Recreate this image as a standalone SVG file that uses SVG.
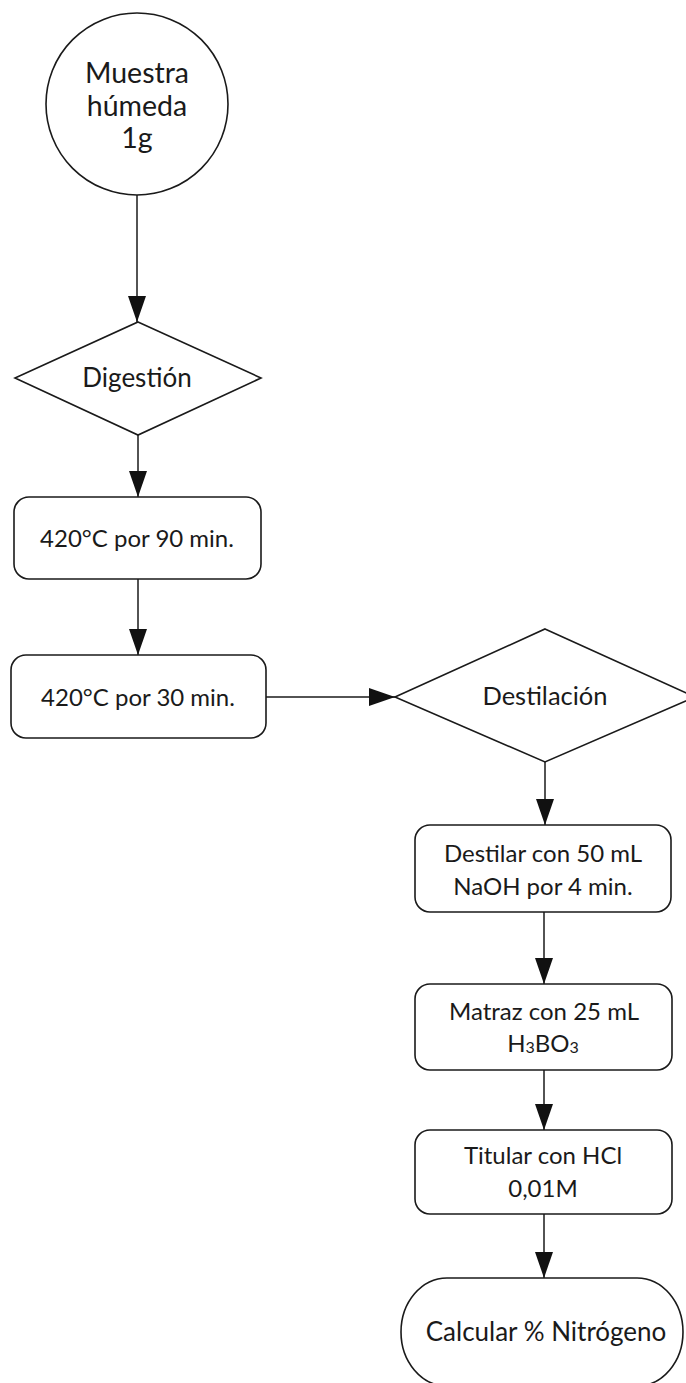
<svg xmlns="http://www.w3.org/2000/svg" width="686" height="1383" viewBox="0 0 686 1383">
  <defs>
    <marker id="arrow" markerUnits="userSpaceOnUse" markerWidth="26" markerHeight="18" refX="26" refY="9" orient="auto">
      <path d="M0,0 L26,9 L0,18 Z" fill="#111"/>
    </marker>
    <style>
      .shape { fill: #fff; stroke: #1a1a1a; stroke-width: 1.6; }
      .edge { fill: none; stroke: #1a1a1a; stroke-width: 1.5; marker-end: url(#arrow); }
      .label { font-family: Lato, "Open Sans", sans-serif; font-size: 24px; fill: #1a1a1a; text-anchor: middle; }
      .big { font-size: 28.5px; }
      .mid { font-size: 26px; }
      .sub { font-size: 16px; }
    </style>
  </defs>
  <rect width="686" height="1383" fill="#fff"/>

  <g id="connectors">
    <line class="edge" x1="137" y1="195" x2="137" y2="322"/>
    <line class="edge" x1="138" y1="435" x2="138" y2="497"/>
    <line class="edge" x1="138" y1="579" x2="138" y2="655"/>
    <line class="edge" x1="266" y1="697" x2="395" y2="697"/>
    <line class="edge" x1="545" y1="762" x2="545" y2="825"/>
    <line class="edge" x1="544" y1="912" x2="544" y2="984"/>
    <line class="edge" x1="544" y1="1070" x2="544" y2="1130"/>
    <line class="edge" x1="544" y1="1214" x2="544" y2="1278"/>
  </g>

  <g id="muestra">
    <circle class="shape" cx="137" cy="104" r="91"/>
    <text class="label big" x="137" y="83">Muestra</text>
    <text class="label big" x="137" y="116">húmeda</text>
    <text class="label big" x="137" y="148">1g</text>
  </g>

  <g id="digestion">
    <polygon class="shape" points="138,322 261,378 138,435 15,378"/>
    <text class="label mid" x="137" y="387">Digestión</text>
  </g>

  <g id="paso-90min">
    <rect class="shape" x="14" y="497" width="247" height="82" rx="15"/>
    <text class="label" x="137" y="547">420°C por 90 min.</text>
  </g>

  <g id="paso-30min">
    <rect class="shape" x="11" y="655" width="255" height="83" rx="15"/>
    <text class="label" x="138" y="706">420°C por 30 min.</text>
  </g>

  <g id="destilacion">
    <polygon class="shape" points="545,629 695,697 545,762 395,697"/>
    <text class="label" x="545" y="705" style="font-size:25.5px">Destilación</text>
  </g>

  <g id="destilar">
    <rect class="shape" x="415" y="825" width="256" height="87" rx="15"/>
    <text class="label" x="543" y="862">Destilar con 50 mL</text>
    <text class="label" x="543" y="895">NaOH por 4 min.</text>
  </g>

  <g id="matraz">
    <rect class="shape" x="415" y="984" width="257" height="86" rx="15"/>
    <text class="label" x="544" y="1020">Matraz con 25 mL</text>
    <text class="label" x="543" y="1052">H<tspan class="sub" dy="1">3</tspan><tspan dy="-1">BO</tspan><tspan class="sub" dy="1">3</tspan></text>
  </g>

  <g id="titular">
    <rect class="shape" x="415" y="1130" width="257" height="84" rx="15"/>
    <text class="label" x="543" y="1164">Titular con HCl</text>
    <text class="label" x="543" y="1197">0,01M</text>
  </g>

  <g id="calcular">
    <rect class="shape" x="401" y="1278" width="282" height="108" rx="46" ry="54"/>
    <text class="label mid" x="546" y="1341">Calcular % Nitrógeno</text>
  </g>
</svg>
